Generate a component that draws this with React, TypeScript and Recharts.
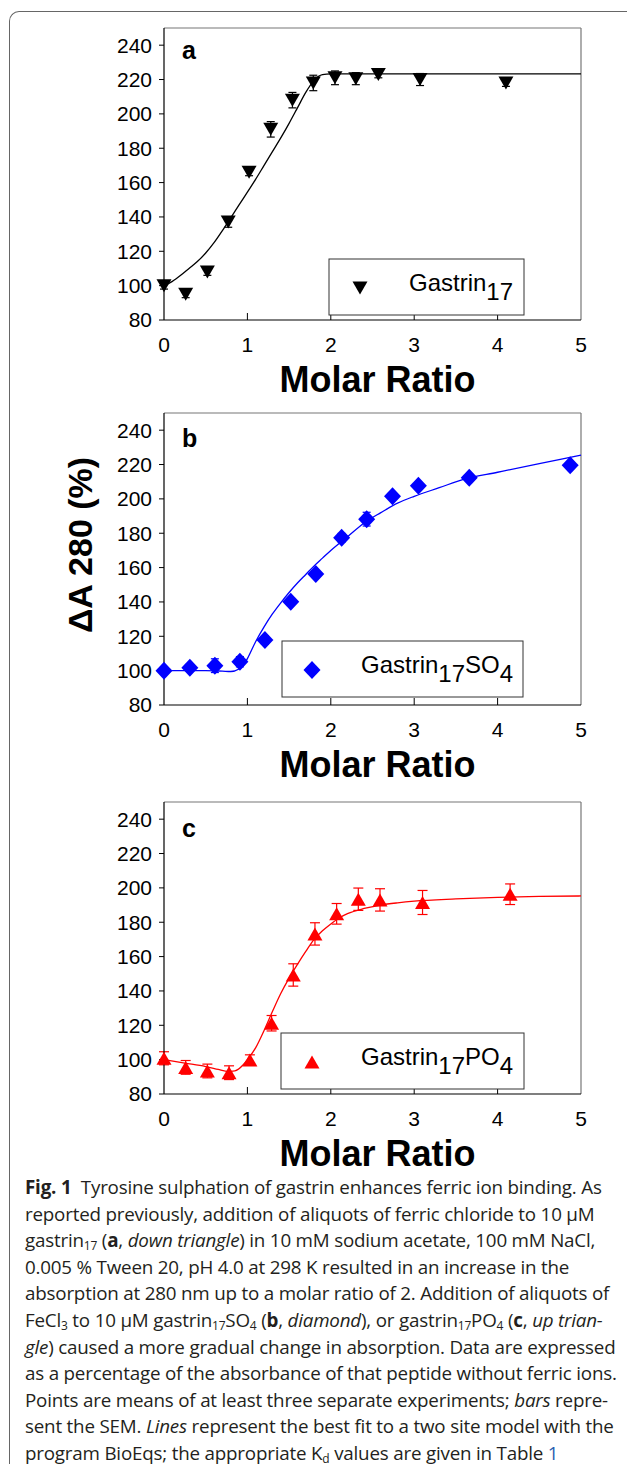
import React from 'react';
import { ComposedChart, Line, Scatter, XAxis, YAxis, ErrorBar, ReferenceLine } from 'recharts';

// panel a: gastrin17, down triangles
const ratioA = [0, 0.26, 0.52, 0.77, 1.02, 1.28, 1.54, 1.79, 2.05, 2.3, 2.57, 3.07, 4.1];
const absA = [100, 95, 108, 137, 166, 191, 208, 218, 221, 220.5, 223, 220, 218];
const semA = [2, 2, 2, 3, 2, 4.5, 4.5, 4.5, 4, 3.5, 2, 3.5, 2];
const fitRatioA = [0, 0.1, 0.2, 0.3, 0.4, 0.5, 0.6, 0.7, 0.8, 0.9, 1.0, 1.1, 1.2, 1.3, 1.4, 1.5, 1.6, 1.7, 1.8, 1.9, 2.0, 2.2, 5];
const fitAbsA = [100, 102.5, 106, 110, 114, 119, 125, 132, 139.5, 147, 154.5, 162, 170, 178, 186, 194.5, 203.5, 212.5, 219.5, 222.8, 223.3, 223.3, 223.3];

// panel b: gastrin17SO4, diamonds
const ratioB = [0, 0.31, 0.61, 0.91, 1.21, 1.52, 1.82, 2.13, 2.43, 2.74, 3.05, 3.66, 4.87];
const absB = [100, 101.7, 102.9, 105.2, 117.8, 140.1, 156.2, 177.4, 188.2, 201.6, 207.6, 212.3, 219.6];
const semB = [1, 1.5, 4, 3, 2.5, 2, 2, 2.5, 4, 2, 2, 2, 2];
const fitRatioB = [0, 0.5, 0.7, 0.8, 0.9, 0.95, 1.0, 1.1, 1.2, 1.3, 1.4, 1.5, 1.6, 1.7, 1.8, 1.9, 2.0, 2.2, 2.4, 2.6, 2.8, 3.0, 3.3, 3.6, 4.0, 4.5, 5];
const fitAbsB = [100, 100, 99.7, 99.5, 101, 103, 107, 117, 125.5, 133, 139.5, 145.5, 151, 156, 161, 165.5, 170, 178, 186, 192, 197.5, 201.5, 206.5, 211.5, 215.5, 220.5, 225.5];

// panel c: gastrin17PO4, up triangles
const ratioC = [0, 0.26, 0.52, 0.78, 1.03, 1.29, 1.55, 1.81, 2.07, 2.33, 2.59, 3.1, 4.15];
const absC = [100.8, 95.5, 93.4, 92.4, 99.8, 121.2, 149.3, 173.2, 184.9, 193.4, 193, 191.5, 196.3];
const semC = [3.8, 4, 4, 4, 3, 4.5, 6.5, 6.5, 6, 6.5, 6.5, 7, 6];
const fitRatioC = [0, 0.25, 0.5, 0.65, 0.75, 0.85, 0.95, 1.0, 1.1, 1.2, 1.3, 1.4, 1.5, 1.6, 1.7, 1.8, 1.9, 2.0, 2.1, 2.2, 2.4, 2.6, 2.8, 3.0, 3.5, 4.0, 4.5, 5];
const fitAbsC = [100, 98, 96, 94.3, 93.2, 93.5, 97, 100, 107, 117, 128, 138.5, 147.5, 155.5, 163, 170, 175, 179, 182.5, 185, 188, 190, 191.3, 192.3, 193.6, 194.5, 195, 195.3];

const ratioTicks = [0, 1, 2, 3, 4, 5];
const absTicks = [80, 100, 120, 140, 160, 180, 200, 220, 240];

const FONT = '"Liberation Sans", Arial, sans-serif';

type Pt = { x: number; y: number; e: number };
const zipPts = (xs: number[], ys: number[], es?: number[]): Pt[] =>
  xs.map((x, i) => ({ x, y: ys[i], e: es ? es[i] : 0 }));

const downTri = (cx: number, cy: number) => `M${cx - 7.5},${cy - 6.5}L${cx + 7.5},${cy - 6.5}L${cx},${cy + 6.5}Z`;
const upTri = (cx: number, cy: number) => `M${cx - 7.5},${cy + 6.5}L${cx + 7.5},${cy + 6.5}L${cx},${cy - 6.5}Z`;
const diamond = (cx: number, cy: number) => `M${cx},${cy - 9}L${cx + 8.5},${cy}L${cx},${cy + 9}L${cx - 8.5},${cy}Z`;

const markerShape = (path: (cx: number, cy: number) => string, color: string) => (p: any) =>
  <path d={path(p.cx, p.cy)} fill={color} stroke="none" />;

const RatioTick = ({ x, y, payload }: any) => (
  <g>
    {payload.value > 0 && payload.value < 5 && (
      <line x1={x} y1={y} x2={x} y2={y - 7} stroke="#000" strokeWidth={1} />
    )}
    <text x={x} y={y + 17} dy="0.71em" textAnchor="middle" fontSize={21} fontFamily={FONT} fill="#000">
      {payload.value}
    </text>
  </g>
);

interface PanelProps {
  top: number;
  color: string;
  points: Pt[];
  fit: Pt[];
  path: (cx: number, cy: number) => string;
  capWidth: number;
}

function Panel({ top, color, points, fit, path, capWidth }: PanelProps) {
  return (
    <div style={{ position: 'absolute', left: 0, top: top - 10 }}>
      <ComposedChart width={627} height={382} margin={{ top: 10, right: 46, bottom: 0, left: 0 }}>
        <XAxis
          type="number"
          dataKey="x"
          domain={[0, 5]}
          ticks={ratioTicks}
          height={80}
          tickSize={0}
          tickMargin={0}
          tickLine={false}
          tick={RatioTick}
          axisLine={{ stroke: '#000', strokeWidth: 1.2 }}
          label={{
            value: 'Molar Ratio',
            position: 'insideBottom',
            offset: 8,
            dx: 5,
            style: { fontSize: 36, fontWeight: 'bold', fontFamily: FONT, fill: '#000' },
          }}
        />
        <YAxis
          type="number"
          domain={[80, 250]}
          ticks={absTicks}
          width={164}
          tickSize={5}
          tickMargin={7}
          tick={{ fontSize: 21, fontFamily: FONT, fill: '#000' }}
          tickLine={{ stroke: '#000' }}
          axisLine={{ stroke: '#000', strokeWidth: 1.2 }}
        />
        <ReferenceLine y={250} stroke="#777" strokeWidth={1.2} />
        <ReferenceLine x={5} stroke="#777" strokeWidth={1.2} />
        <Line
          data={fit}
          dataKey="y"
          type="monotone"
          stroke={color}
          strokeWidth={1.3}
          dot={false}
          isAnimationActive={false}
        />
        <Scatter data={points} dataKey="y" fill={color} shape={markerShape(path, color)} isAnimationActive={false}>
          <ErrorBar dataKey="e" direction="y" width={capWidth} stroke={color} strokeWidth={1.2} />
        </Scatter>
      </ComposedChart>
    </div>
  );
}

function LegendBox({ x, y, w, mx, tx, path, color, parts }: any) {
  return (
    <g>
      <rect x={x} y={y} width={w} height={56} fill="#fff" stroke="#333" strokeWidth={1} />
      <path d={path(mx, y + 29)} fill={color} />
      <text x={tx} y={y + 32} fontSize={24} fontFamily={FONT} fill="#000">
        {parts.map((s: string, i: number) => (
          <tspan key={i} dy={i === 0 ? 0 : i % 2 === 1 ? 9 : -9}>{s}</tspan>
        ))}
      </text>
    </g>
  );
}

const captionStyle: React.CSSProperties = {
  position: 'absolute',
  left: 25,
  top: 1174,
  fontFamily: '"Open Sans", sans-serif',
  fontSize: 18.8,
  letterSpacing: -0.2,
  lineHeight: '26.6px',
  color: '#231f20',
  whiteSpace: 'nowrap',
};
const sub: React.CSSProperties = { fontSize: 12, verticalAlign: -3, lineHeight: 0 };

export default function App() {
  return (
    <div style={{ position: 'absolute', left: 0, top: 0, width: 627, height: 1467, background: '#fff', overflow: 'hidden' }}>
      <div
        style={{
          position: 'absolute',
          left: 9,
          top: 11,
          width: 640,
          height: 1452,
          borderTop: '1.5px solid #666',
          borderLeft: '1.5px solid #666',
          borderTopLeftRadius: 10,
        }}
      />
      <Panel top={28} color="#000" points={zipPts(ratioA, absA, semA)} fit={zipPts(fitRatioA, fitAbsA)} path={downTri} capWidth={4} />
      <Panel top={413} color="#0000ff" points={zipPts(ratioB, absB, semB)} fit={zipPts(fitRatioB, fitAbsB)} path={diamond} capWidth={4} />
      <Panel top={802} color="#ff0000" points={zipPts(ratioC, absC, semC)} fit={zipPts(fitRatioC, fitAbsC)} path={upTri} capWidth={5} />

      <svg width={627} height={1467} style={{ position: 'absolute', left: 0, top: 0, pointerEvents: 'none' }}>
        <g fontFamily={FONT} fontWeight="bold" fontSize={25} fill="#000">
          <text x={182} y={59}>a</text>
          <text x={182} y={447}>b</text>
          <text x={182} y={837}>c</text>
        </g>
        <text
          transform="translate(80,545) rotate(-90)"
          textAnchor="middle"
          dominantBaseline="central"
          fontFamily={FONT}
          fontWeight="bold"
          fontSize={34}
          fill="#000"
        >
          ΔA 280 (%)
        </text>
        <LegendBox x={329} y={259} w={195} mx={360} tx={409} path={downTri} color="#000" parts={['Gastrin', '17']} />
        <LegendBox x={282} y={641} w={241} mx={312} tx={361} path={diamond} color="#0000ff" parts={['Gastrin', '17', 'SO', '4']} />
        <LegendBox x={281} y={1033} w={243} mx={312} tx={361} path={upTri} color="#ff0000" parts={['Gastrin', '17', 'PO', '4']} />
      </svg>

      <div style={captionStyle}>
        <div><b>Fig. 1</b>&nbsp; Tyrosine sulphation of gastrin enhances ferric ion binding. As</div>
        <div>reported previously, addition of aliquots of ferric chloride to 10 µM</div>
        <div>gastrin<span style={sub}>17</span> (<b>a</b>, <i>down triangle</i>) in 10 mM sodium acetate, 100 mM NaCl,</div>
        <div>0.005 % Tween 20, pH 4.0 at 298 K resulted in an increase in the</div>
        <div>absorption at 280 nm up to a molar ratio of 2. Addition of aliquots of</div>
        <div>
          FeCl<span style={sub}>3</span> to 10 µM gastrin<span style={sub}>17</span>SO<span style={sub}>4</span> (<b>b</b>, <i>diamond</i>), or gastrin<span style={sub}>17</span>PO<span style={sub}>4</span> (<b>c</b>, <i>up trian-</i>
        </div>
        <div><i>gle</i>) caused a more gradual change in absorption. Data are expressed</div>
        <div>as a percentage of the absorbance of that peptide without ferric ions.</div>
        <div>Points are means of at least three separate experiments; <i>bars</i> repre-</div>
        <div>sent the SEM. <i>Lines</i> represent the best fit to a two site model with the</div>
        <div>
          program BioEqs; the appropriate K<span style={sub}>d</span> values are given in Table <span style={{ color: '#2a5db0' }}>1</span>
        </div>
      </div>
    </div>
  );
}
